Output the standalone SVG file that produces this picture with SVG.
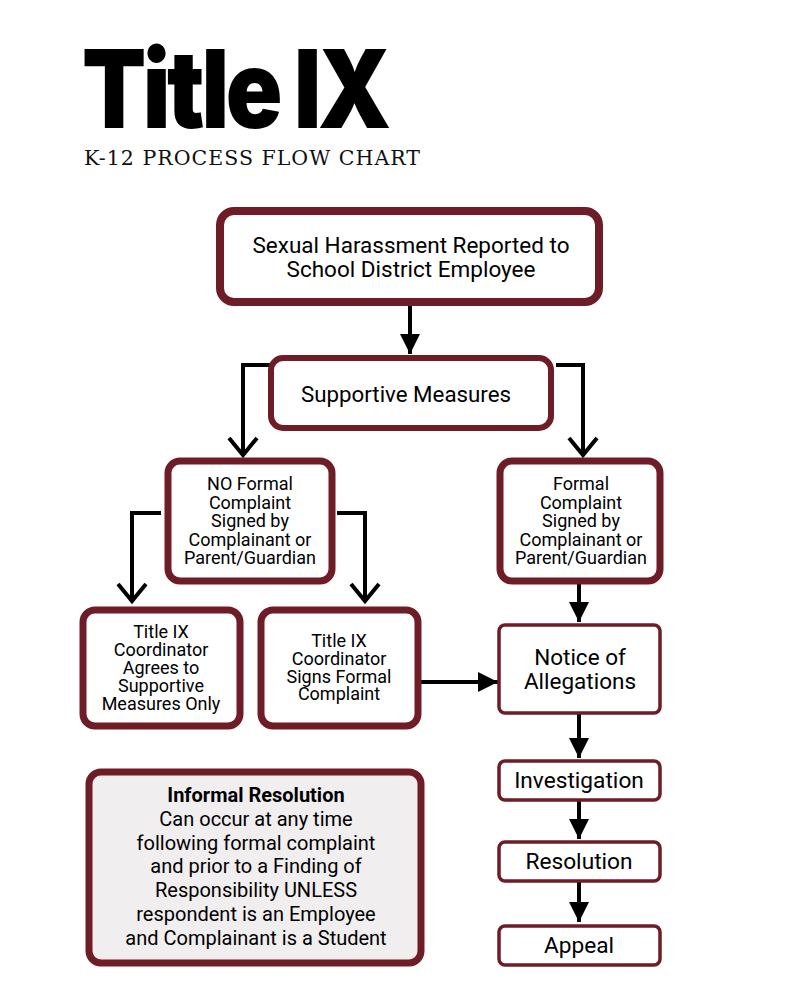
<svg xmlns="http://www.w3.org/2000/svg" width="800" height="1000" viewBox="0 0 800 1000">
<style>
  .box{fill:#ffffff;stroke:#6e1d27;}
  .t{font-family:Roboto,"Liberation Sans",sans-serif;fill:#000;text-anchor:middle;}
  .ln{stroke:#000;stroke-width:4;fill:none;}
  .open{stroke:#000;stroke-width:4;fill:none;stroke-linecap:butt;}
</style>
<defs>
  <marker id="tri" viewBox="0 0 10 10" refX="10" refY="5" markerWidth="5" markerHeight="5" markerUnits="strokeWidth" orient="auto">
    <path d="M0,0 L10,5 L0,10 Z" fill="#000"/>
  </marker>
</defs>
<rect width="800" height="1000" fill="#ffffff"/>
<g id="title">
  <text x="82" y="128" font-family="Inter,'Liberation Sans',sans-serif" font-weight="900" font-size="108" letter-spacing="-4" textLength="306" lengthAdjust="spacingAndGlyphs" fill="#000">Title IX</text>
  <text x="84" y="165" font-family="'DejaVu Serif','Liberation Serif',serif" font-size="20.5" textLength="336" lengthAdjust="spacing" fill="#111">K-12 PROCESS FLOW CHART</text>
</g>
<g id="connectors">
  <line class="ln" x1="410" y1="303" x2="410" y2="354" marker-end="url(#tri)"/>
  <polyline class="ln" points="271,365 243,365 243,454"/>
  <polyline class="open" points="229,438 243,455 257,438"/>
  <polyline class="ln" points="556,365 583,365 583,454"/>
  <polyline class="open" points="569,438 583,455 597,438"/>
  <polyline class="ln" points="161,513 132,513 132,600"/>
  <polyline class="open" points="118,584 132,601 146,584"/>
  <polyline class="ln" points="337,513 365,513 365,600"/>
  <polyline class="open" points="351,584 365,601 379,584"/>
  <line class="ln" x1="579" y1="584" x2="579" y2="622" marker-end="url(#tri)"/>
  <line class="ln" x1="421" y1="682" x2="498" y2="682" marker-end="url(#tri)"/>
  <line class="ln" x1="579" y1="714" x2="579" y2="758" marker-end="url(#tri)"/>
  <line class="ln" x1="579" y1="801" x2="579" y2="839" marker-end="url(#tri)"/>
  <line class="ln" x1="579" y1="882" x2="579" y2="922" marker-end="url(#tri)"/>
</g>
<g id="reported">
  <rect class="box" x="220" y="211" width="379" height="91" rx="14" stroke-width="8"/>
  <text class="t" x="411" y="253" font-size="22.5">Sexual Harassment Reported to</text>
  <text class="t" x="411" y="277" font-size="22.5">School District Employee</text>
</g>
<g id="supportive">
  <rect class="box" x="271" y="358" width="280" height="70" rx="12" stroke-width="6"/>
  <text class="t" x="406" y="402" font-size="22.3">Supportive Measures</text>
</g>
<g id="no-formal">
  <rect class="box" x="168" y="461" width="164" height="120" rx="12" stroke-width="7"/>
  <text class="t" x="250" y="490" font-size="18">NO Formal</text>
  <text class="t" x="250" y="509" font-size="18">Complaint</text>
  <text class="t" x="250" y="527" font-size="18">Signed by</text>
  <text class="t" x="250" y="546" font-size="18">Complainant or</text>
  <text class="t" x="250" y="564" font-size="18">Parent/Guardian</text>
</g>
<g id="formal">
  <rect class="box" x="500" y="461" width="160" height="120" rx="12" stroke-width="7"/>
  <text class="t" x="581" y="490" font-size="18">Formal</text>
  <text class="t" x="581" y="509" font-size="18">Complaint</text>
  <text class="t" x="581" y="527" font-size="18">Signed by</text>
  <text class="t" x="581" y="546" font-size="18">Complainant or</text>
  <text class="t" x="581" y="564" font-size="18">Parent/Guardian</text>
</g>
<g id="agrees">
  <rect class="box" x="83" y="610" width="157" height="116" rx="12" stroke-width="7"/>
  <text class="t" x="161" y="638" font-size="18">Title IX</text>
  <text class="t" x="161" y="656" font-size="18">Coordinator</text>
  <text class="t" x="161" y="674" font-size="18">Agrees to</text>
  <text class="t" x="161" y="692" font-size="18">Supportive</text>
  <text class="t" x="161" y="710" font-size="18">Measures Only</text>
</g>
<g id="signs">
  <rect class="box" x="261" y="610" width="157" height="116" rx="12" stroke-width="7"/>
  <text class="t" x="339" y="647" font-size="18">Title IX</text>
  <text class="t" x="339" y="665" font-size="18">Coordinator</text>
  <text class="t" x="339" y="683" font-size="18">Signs Formal</text>
  <text class="t" x="339" y="700" font-size="18">Complaint</text>
</g>
<g id="notice">
  <rect class="box" x="499" y="625" width="161" height="88" rx="6" stroke-width="3.5"/>
  <text class="t" x="580" y="665" font-size="22.5">Notice of</text>
  <text class="t" x="580" y="689" font-size="22.5">Allegations</text>
</g>
<g id="investigation">
  <rect class="box" x="499" y="761" width="161" height="39" rx="6" stroke-width="3.5"/>
  <text class="t" x="579" y="788" font-size="22.7">Investigation</text>
</g>
<g id="resolution">
  <rect class="box" x="499" y="842" width="161" height="39" rx="6" stroke-width="3.5"/>
  <text class="t" x="579" y="869" font-size="22.7">Resolution</text>
</g>
<g id="appeal">
  <rect class="box" x="499" y="926" width="161" height="39" rx="6" stroke-width="3.5"/>
  <text class="t" x="579" y="953" font-size="22.7">Appeal</text>
</g>
<g id="informal">
  <rect x="89" y="772" width="332" height="191" rx="12" fill="#f0eeef" stroke="#6e1d27" stroke-width="7"/>
  <text class="t" x="256" y="802" font-size="20" font-weight="bold">Informal Resolution</text>
  <text class="t" x="256" y="826" font-size="20">Can occur at any time</text>
  <text class="t" x="256" y="850" font-size="20">following formal complaint</text>
  <text class="t" x="256" y="873" font-size="20">and prior to a Finding of</text>
  <text class="t" x="256" y="897" font-size="20">Responsibility UNLESS</text>
  <text class="t" x="256" y="921" font-size="20">respondent is an Employee</text>
  <text class="t" x="256" y="945" font-size="20">and Complainant is a Student</text>
</g>
</svg>
